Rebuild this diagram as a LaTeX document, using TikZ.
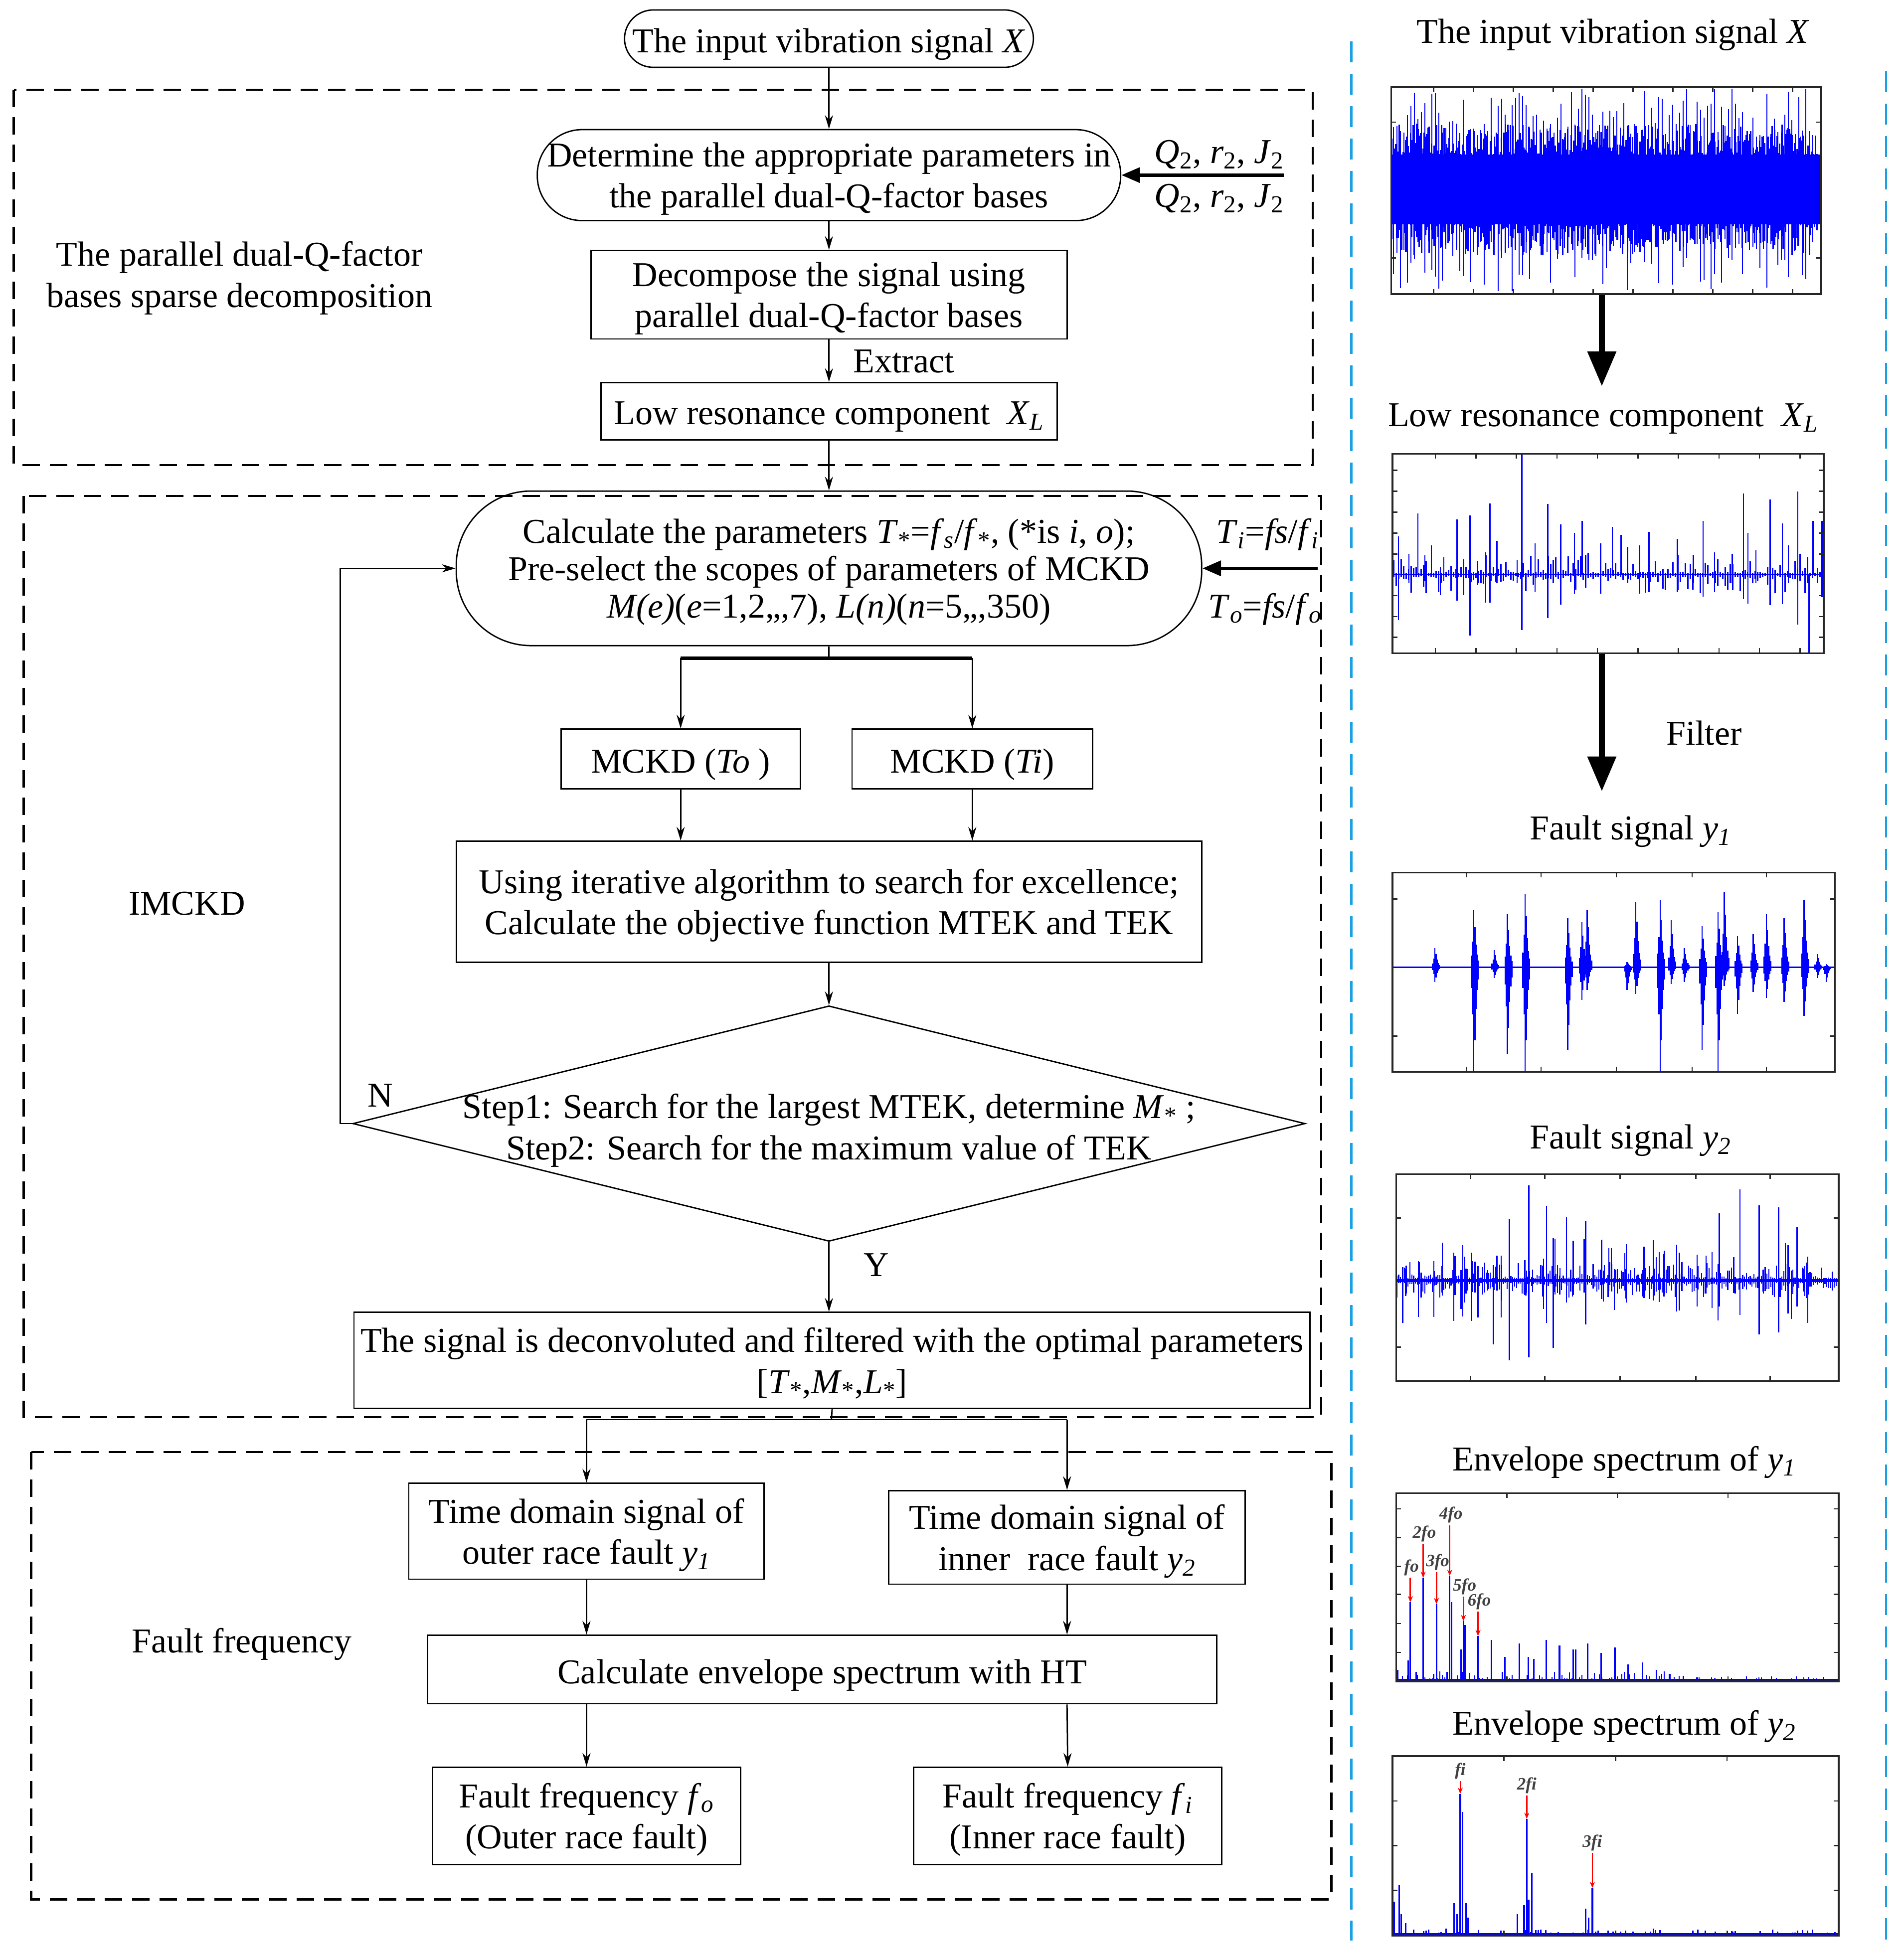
\documentclass[tikz,border=0pt]{standalone}
\usepackage{fontspec}
\setmainfont{Liberation Serif}
\usetikzlibrary{arrows.meta,shapes.geometric}
\definecolor{sigblue}{RGB}{0,0,255}
\definecolor{sepblue}{RGB}{27,161,226}
\newcommand\mysub[1]{\textsubscript{#1}}
\begin{document}
\begin{tikzpicture}[x=1pt,y=-1pt,
  font=\fontsize{28}{33}\selectfont,
  flow/.style={draw, line width=1.1pt, inner sep=0pt, align=center},
  stad/.style={flow, rounded corners=#1},
  stad/.default=23,
  arr/.style={line width=1.1pt,-{Stealth[length=11pt,width=6.5pt]}},
  plainline/.style={line width=1.1pt},
  inarr/.style={line width=2.8pt,-{Triangle[length=15pt,width=12pt]}},
  bigarr/.style={line width=5pt,-{Triangle[length=28pt,width=22pt]}},
  region/.style={line width=1.7pt, dash pattern=on 14pt off 8pt},
  sepline/.style={sepblue, line width=1.7pt, dash pattern=on 17pt off 9pt},
  pframe/.style={draw=black!85, line width=1.3pt},
  tk/.style={black!85, line width=1pt},
  sig/.style={sigblue, line width=0.9pt},
  peak/.style={sigblue, line width=1.3pt},
  redarr/.style={red, line width=1.1pt, -{Stealth[length=5pt,width=4pt]}},
  plab/.style={font=\fontsize{14}{14}\selectfont\itshape\bfseries, text=black!75, inner sep=0.5pt, anchor=south},
  lab/.style={inner sep=0pt, align=center}
]
\useasboundingbox (0,0) rectangle (1527,1571);

% ---------------- regions ----------------
\draw[region] (11,72) rectangle (1053,373);
\draw[region] (19,398) rectangle (1060,1137);
\draw[region] (25,1165) rectangle (1068,1524);

% ---------------- separators ----------------
\draw[sepline] (1084,33) -- (1084,1557);
\draw[sepline] (1513,57) -- (1513,1557);

% ---------------- flowchart nodes ----------------
\begin{scope}[every node/.append style={text depth=0pt}]
\node[stad=23, minimum width=328, minimum height=46] (input) at (665,31) {\raisebox{-3pt}{The input vibration signal \textit{X}}};
\node[stad=36, minimum width=468, minimum height=73] (det) at (665,140.5) {Determine the appropriate parameters in\\the parallel dual-Q-factor bases};
\node[flow, minimum width=382, minimum height=71] (dec) at (665,236.5) {Decompose the signal using\\parallel dual-Q-factor bases};
\node[flow, minimum width=366, minimum height=46] (low) at (665,330) {\raisebox{-3pt}{Low resonance component~~\textit{X}\mysub{\textit{L}}}};
\node[stad=60, minimum width=598, minimum height=124, font=\fontsize{28}{30}\selectfont] (calc) at (665,456) {Calculate the parameters \textit{T}\mysub{*}=\textit{f}\mysub{\textit{s}}/\textit{f}\mysub{*}, (*is \textit{i}, \textit{o});\\Pre-select the scopes of parameters of MCKD\\\textit{M(e)}(\textit{e}=1,2,,,7), \textit{L(n)}(\textit{n}=5,,,350)};
\node[flow, minimum width=192, minimum height=48] (mckdo) at (546,609) {\raisebox{-3pt}{MCKD (\textit{To} )}};
\node[flow, minimum width=193, minimum height=48] (mckdi) at (780,609) {\raisebox{-3pt}{MCKD (\textit{Ti})}};
\node[flow, minimum width=598, minimum height=97] (iter) at (665,723.5) {Using iterative algorithm to search for excellence;\\Calculate the objective function MTEK and TEK};
\node[diamond, draw, line width=1.1pt, inner sep=0pt, minimum width=764, minimum height=189] (judge) at (665,901.5) {};
\node[lab] (judgetext) at (665,904) {Step1: Search for the largest MTEK, determine \textit{M}\mysub{*} ;\\Step2: Search for the maximum value of TEK};
\node[flow, minimum width=767, minimum height=77] (deconv) at (667.5,1091.5) {The signal is deconvoluted and filtered with the optimal parameters\\{}[\textit{T}\mysub{*},\textit{M}\mysub{*},\textit{L}\mysub{*}]};
\node[flow, minimum width=285, minimum height=77] (tdo) at (470.5,1228.5) {Time domain signal of\\outer race fault \textit{y}\mysub{\textit{1}}};
\node[flow, minimum width=286, minimum height=75] (tdi) at (856,1233.5) {Time domain signal of\\inner~~race fault \textit{y}\mysub{\textit{2}}};
\node[flow, minimum width=633, minimum height=55] (env) at (659.5,1339.5) {\raisebox{-3pt}{Calculate envelope spectrum with HT}};
\node[flow, minimum width=247, minimum height=78] (ffo) at (470.5,1457) {Fault frequency \textit{f}\mysub{\textit{o}}\\(Outer race fault)};
\node[flow, minimum width=247, minimum height=78] (ffi) at (856.5,1457) {Fault frequency \textit{f}\mysub{\textit{i}}\\(Inner race fault)};
\end{scope}

% labels
\node[lab] (lab1) at (192,223) {The parallel dual-Q-factor\\bases sparse decomposition};
\node[lab] (lab2) at (150,725) {IMCKD};
\node[lab] (lab3) at (194,1319) {Fault frequency};
\node[lab] (extract) at (725,290) {Extract};
\node[lab] (nlab) at (305,879) {N};
\node[lab] (ylab) at (703,1015) {Y};
\node[lab] (q1) at (978,124) {\textit{Q}\mysub{2}, \textit{r}\mysub{2}, \textit{J}\mysub{2}};
\node[lab] (q2) at (978,159) {\textit{Q}\mysub{2}, \textit{r}\mysub{2}, \textit{J}\mysub{2}};
\node[lab] (ti) at (1017,429) {\textit{T}\mysub{\textit{i}}=\textit{fs}/\textit{f}\mysub{\textit{i}}};
\node[lab] (to) at (1015,489) {\textit{T}\mysub{\textit{o}}=\textit{fs}/\textit{f}\mysub{\textit{o}}};

% ---------------- flowchart connectors ----------------
\coordinate (qin) at (1030,140.5);
\coordinate (tin) at (1057,456);
\coordinate (s1) at (665,528);
\coordinate (nloop) at (273,456);
\coordinate (s2) at (667,1139);

\draw[arr] (input.south) -- (det.north);
\draw[inarr] (qin) -- (det.east);
\draw[arr] (det.south) -- (dec.north);
\draw[arr] (dec.south) -- (low.north);
\draw[arr] (low.south) -- (calc.north);
\draw[inarr] (tin) -- (calc.east);
\draw[plainline] (calc.south) -- (s1);
\draw[line width=2.8pt] (mckdo.north |- s1) -- (mckdi.north |- s1);
\draw[arr] (mckdo.north |- s1) -- (mckdo.north);
\draw[arr] (mckdi.north |- s1) -- (mckdi.north);
\draw[arr] (mckdo.south) -- (mckdo.south |- iter.north);
\draw[arr] (mckdi.south) -- (mckdi.south |- iter.north);
\draw[arr] (iter.south) -- (judge.north);
\draw[arr] (judge.west) -- (judge.west -| nloop) -- (nloop) -- (calc.west);
\draw[arr] (judge.south) -- (judge.south |- deconv.north);
\draw[plainline] (deconv.south) -- (s2);
\draw[plainline] (tdo.north |- s2) -- (tdi.north |- s2);
\draw[arr] (tdo.north |- s2) -- (tdo.north);
\draw[arr] (tdi.north |- s2) -- (tdi.north);
\draw[arr] (tdo.south) -- (tdo.south |- env.north);
\draw[arr] (tdi.south) -- (tdi.south |- env.north);
\draw[arr] (tdo.south |- env.south) -- (ffo.north);
\draw[arr] (tdi.south |- env.south) -- (ffi.north);

% ---------------- right panel: titles ----------------
\node[lab] (t1) at (1294,28) {The input vibration signal \textit{X}};
\node[lab] (t2) at (1286,336) {Low resonance component~~\textit{X}\mysub{\textit{L}}};
\node[lab] (t3) at (1367,588) {Filter};
\node[lab] (t4) at (1308,667) {Fault signal \textit{y}\mysub{\textit{1}}};
\node[lab] (t5) at (1308,915) {Fault signal \textit{y}\mysub{\textit{2}}};
\node[lab] (t6) at (1303,1173) {Envelope spectrum of \textit{y}\mysub{\textit{1}}};
\node[lab] (t7) at (1303,1385) {Envelope spectrum of \textit{y}\mysub{\textit{2}}};

% plot placeholders
\node[inner sep=0pt, outer sep=0pt, minimum width=345, minimum height=166] (p1) at (1288.5,153) {};
\node[inner sep=0pt, outer sep=0pt, minimum width=346, minimum height=160] (p2) at (1290,444) {};
\node[inner sep=0pt, outer sep=0pt, minimum width=355, minimum height=160] (p3) at (1294.5,780) {};
\node[inner sep=0pt, outer sep=0pt, minimum width=355, minimum height=166] (p4) at (1297.5,1025) {};
\node[inner sep=0pt, outer sep=0pt, minimum width=355, minimum height=151] (p5) at (1297.5,1273.5) {};
\node[inner sep=0pt, outer sep=0pt, minimum width=358, minimum height=144] (p6) at (1296,1481) {};

% big arrows
\coordinate (a1s) at (1285,236);
\coordinate (a1e) at (1285,310);
\coordinate (a2s) at (1285,524);
\coordinate (a2e) at (1285,635);
\draw[bigarr] (a1s) -- (a1e);
\draw[bigarr] (a2s) -- (a2e);

\pgfmathsetseed{4321}
% ---- plot 1: input signal ----
\begin{scope}[shift={(p1.north west)}]
  \fill[sigblue] (0.6,54) rectangle (344.4,110);
  \foreach \i in {0,...,340}{
    \pgfmathsetmacro\xx{1.0*\i+1.5}
    \draw[sigblue, line width=1.1pt] (\xx,{55-26*pow(rnd,1.6)}) -- (\xx,{109+26*pow(rnd,1.6)});
  }
  \foreach \i in {0,...,120}{
    \pgfmathsetmacro\xx{2.8*\i+2}
    \draw[sigblue, line width=0.8pt] (\xx,{max(1,40-40*pow(rnd,1.4))}) -- (\xx,{min(165,122+42*pow(rnd,1.6))});
  }
  \foreach \t in {1,...,10}{
    \draw[tk] ({2+32*\t},0) -- ++(0,4);
    \draw[tk] ({2+32*\t},166) -- ++(0,-4);
  }
  \foreach \t in {28,137}{
    \draw[tk] (0,\t) -- ++(4,0);
    \draw[tk] (345,\t) -- ++(-4,0);
  }
  \draw[pframe] (0,0) rectangle (345,166);
\end{scope}

% ---- plot 2: low resonance component ----
\begin{scope}[shift={(p2.north west)}]
  \draw[sigblue, line width=1.2pt] (0,97) -- (346,97);
  \foreach \i in {0,...,172}{
    \pgfmathsetmacro\xx{2*\i+1}
    \draw[sig] (\xx,{97-1.5-16*pow(rnd,4)}) -- (\xx,{97+1.5+14*pow(rnd,4)});
  }
  \foreach \a/\b/\c in {0.30/0.0/0.885, 0.059/0.30/0.605, 0.014/0.415/0.834, 0.15/0.33/0.738,
     0.18/0.31/0.913, 0.226/0.25/0.747, 0.36/0.253/0.825, 0.39/0.354/0.756, 0.44/0.337/0.605,
     0.51/0.368/0.605, 0.53/0.407/0.605, 0.72/0.337/0.716, 0.814/0.2/0.73, 0.876/0.23/0.76,
     0.94/0.19/0.857, 0.966/0.605/1.0, 0.975/0.337/0.605,
     0.038/0.503/0.65, 0.075/0.51/0.64, 0.09/0.46/0.616, 0.111/0.57/0.71, 0.119/0.52/0.64,
     0.165/0.53/0.71, 0.198/0.537/0.66, 0.216/0.494/0.747, 0.242/0.438/0.65, 0.289/0.532/0.65,
     0.331/0.45/0.695, 0.373/0.537/0.65, 0.422/0.398/0.703, 0.483/0.45/0.703, 0.545/0.468/0.65,
     0.573/0.459/0.703, 0.595/0.393/0.694, 0.661/0.427/0.694, 0.698/0.508/0.65, 0.747/0.494/0.694,
     0.788/0.503/0.65, 0.824/0.398/0.752, 0.843/0.485/0.65, 0.904/0.35/0.755, 0.918/0.459/0.65,
     0.996/0.337/0.72}{
    \draw[sigblue, line width=1pt] ({\a*346},{\b*160}) -- ({\a*346},{\c*160});
  }
  \foreach \t in {1,...,10}{
    \draw[tk] ({32.5*\t+2},0) -- ++(0,4);
    \draw[tk] ({32.5*\t+2},160) -- ++(0,-4);
  }
  \foreach \t in {0.084,0.188,0.293,0.398,0.503,0.712,0.817,0.921}{
    \draw[tk] (0,{\t*160}) -- ++(4,0);
    \draw[tk] (346,{\t*160}) -- ++(-4,0);
  }
  \draw[pframe] (0,0) rectangle (346,160);
\end{scope}

% ---- plot 3: fault signal y1 ----
\begin{scope}[shift={(p3.north west)}]
  \draw[sigblue, line width=1.3pt] (0,76) -- (355,76);
  \foreach \a/\b/\c in {0.096/0.38/0.55, 0.184/0.19/1.0, 0.23/0.39/0.53, 0.26/0.21/0.91,
     0.30/0.11/1.0, 0.396/0.23/0.89, 0.428/0.25/0.64, 0.44/0.19/0.59, 0.53/0.45/0.59,
     0.55/0.15/0.61, 0.605/0.14/1.0, 0.63/0.24/0.56, 0.66/0.38/0.55, 0.70/0.27/0.89,
     0.736/0.2/1.0, 0.75/0.1/0.57, 0.78/0.32/0.71, 0.815/0.31/0.6, 0.845/0.21/0.63,
     0.885/0.23/0.65, 0.93/0.14/0.72, 0.96/0.41/0.53, 0.98/0.46/0.55}{
    \foreach \k/\s in {-2/0.2,-1/0.45,0/1,1/0.7,2/0.4,3/0.22,4/0.12}{
      \draw[sigblue, line width=1pt] ({\a*355+\k*0.9},{76-(76-\b*160)*\s}) -- ({\a*355+\k*0.9},{76+(\c*160-76)*\s});
    }
  }
  \foreach \t in {0.168,0.336,0.506,0.677,0.845}{
    \draw[tk] ({\t*355},0) -- ++(0,4);
    \draw[tk] ({\t*355},160) -- ++(0,-4);
  }
  \foreach \t in {0.133,0.82}{
    \draw[tk] (0,{\t*160}) -- ++(4,0);
    \draw[tk] (355,{\t*160}) -- ++(-4,0);
  }
  \draw[pframe] (0,0) rectangle (355,160);
\end{scope}

% ---- plot 4: fault signal y2 ----
\begin{scope}[shift={(p4.north west)}]
  \foreach \i in {0,...,236}{
    \pgfmathsetmacro\xx{1.5*\i+0.5}
    \draw[sig] (\xx,{85.5-2-13*pow(rnd,2.5)}) -- (\xx,{85.5+2+12*pow(rnd,2.5)});
  }
  \foreach \i in {0,...,55}{
    \pgfmathsetmacro\xx{2+351*rnd}
    \draw[sig] (\xx,{85.5-8-26*pow(rnd,2)}) -- (\xx,{85.5+8+24*pow(rnd,2)});
  }
  \draw[sigblue, line width=2.4pt] (0,85.5) -- (355,85.5);
  \foreach \a/\b/\c in {0.256/0.217/0.9, 0.30/0.054/0.886, 0.34/0.154/0.72, 0.355/0.31/0.84,
     0.385/0.208/0.62, 0.428/0.227/0.727, 0.22/0.44/0.823, 0.52/0.34/0.62, 0.56/0.35/0.6,
     0.73/0.19/0.64, 0.777/0.073/0.68, 0.82/0.15/0.775, 0.864/0.16/0.765, 0.906/0.256/0.64,
     0.93/0.4/0.72, 0.05/0.42/0.69, 0.085/0.42/0.69, 0.13/0.38/0.71, 0.17/0.38/0.71,
     0.64/0.38/0.66, 0.68/0.39/0.64, 0.015/0.45/0.72}{
    \draw[sigblue, line width=1pt] ({\a*355},{\b*166}) -- ({\a*355},{\c*166});
  }
  \foreach \t in {0.168,0.336,0.506,0.677,0.845}{
    \draw[tk] ({\t*355},0) -- ++(0,4);
    \draw[tk] ({\t*355},166) -- ++(0,-4);
  }
  \foreach \t in {0.213,0.837}{
    \draw[tk] (0,{\t*166}) -- ++(4,0);
    \draw[tk] (355,{\t*166}) -- ++(-4,0);
  }
  \draw[pframe] (0,0) rectangle (355,166);
\end{scope}

% ---- plot 5: envelope spectrum y1 ----
\begin{scope}[shift={(p5.north west)}]
  \foreach \i in {0,...,176}{
    \pgfmathsetmacro\xx{2*\i+1}
    \draw[sig] (\xx,151) -- (\xx,{151-1.5-7*pow(rnd,3)*ifthenelse(\xx<230,1,0.35)});
  }
  \draw[sigblue, line width=2pt] (0,150) -- (355,150);
  \foreach \a/\h in {0.032/0.42, 0.061/0.55, 0.091/0.41, 0.121/0.56, 0.125/0.42, 0.152/0.32,
     0.147/0.17, 0.156/0.3, 0.185/0.24, 0.215/0.22, 0.246/0.13, 0.278/0.20, 0.299/0.13,
     0.311/0.12, 0.339/0.22, 0.369/0.19, 0.40/0.17, 0.406/0.17, 0.433/0.20, 0.463/0.15,
     0.494/0.18, 0.524/0.09, 0.557/0.10, 0.588/0.06, 0.618/0.04, 0.649/0.03, 0.68/0.02,
     0.72/0.015, 0.027/0.11, 0.045/0.05, 0.115/0.05, 0.003/0.06, 0.24/0.05, 0.085/0.04}{
    \draw[peak] ({\a*355},151) -- ({\a*355},{151-\h*151});
  }
  \foreach \a/\s/\e/\l in {0.032/0.55/0.42/fo, 0.061/0.73/0.55/2fo, 0.091/0.58/0.41/3fo,
     0.121/0.83/0.56/4fo, 0.152/0.45/0.32/5fo, 0.185/0.37/0.24/6fo}{
    \draw[redarr] ({\a*355},{151-\s*151}) -- ({\a*355},{151-\e*151});
    \node[plab] at ({\a*355+1},{151-\s*151-1}) {\l};
  }
  \foreach \t in {0.25,0.5,0.75}{
    \draw[tk] ({\t*355},0) -- ++(0,4);
    \draw[tk] ({\t*355},151) -- ++(0,-4);
  }
  \foreach \t in {0.084,0.236,0.39,0.538,0.693,0.847}{
    \draw[tk] (0,{\t*151}) -- ++(4,0);
    \draw[tk] (355,{\t*151}) -- ++(-4,0);
  }
  \draw[pframe] (0,0) rectangle (355,151);
\end{scope}

% ---- plot 6: envelope spectrum y2 ----
\begin{scope}[shift={(p6.north west)}]
  \foreach \i in {0,...,178}{
    \pgfmathsetmacro\xx{2*\i+1}
    \draw[sig] (\xx,144) -- (\xx,{144-1-4*pow(rnd,4)});
  }
  \draw[sigblue, line width=2pt] (0,143) -- (358,143);
  \foreach \a/\h in {0.152/0.79, 0.157/0.69, 0.138/0.18, 0.145/0.12, 0.165/0.18, 0.17/0.1,
     0.301/0.65, 0.312/0.35, 0.295/0.17, 0.305/0.2, 0.28/0.12, 0.448/0.265, 0.433/0.15,
     0.44/0.1, 0.004/0.19, 0.015/0.28, 0.02/0.12, 0.03/0.07, 0.12/0.04, 0.585/0.04,
     0.6/0.03, 0.75/0.025, 0.76/0.025, 0.9/0.015}{
    \draw[peak] ({\a*358},144) -- ({\a*358},{144-\h*144});
  }
  \foreach \a/\s/\e/\l in {0.152/0.86/0.79/fi, 0.301/0.78/0.65/2fi, 0.448/0.46/0.265/3fi}{
    \draw[redarr] ({\a*358},{144-\s*144}) -- ({\a*358},{144-\e*144});
    \node[plab] at ({\a*358},{144-\s*144-1}) {\l};
  }
  \foreach \t in {0.25,0.5,0.75}{
    \draw[tk] ({\t*358},0) -- ++(0,4);
    \draw[tk] ({\t*358},144) -- ++(0,-4);
  }
  \foreach \t in {0.25,0.498,0.748}{
    \draw[tk] (0,{\t*144}) -- ++(4,0);
    \draw[tk] (358,{\t*144}) -- ++(-4,0);
  }
  \draw[pframe] (0,0) rectangle (358,144);
\end{scope}
\end{tikzpicture}
\end{document}
